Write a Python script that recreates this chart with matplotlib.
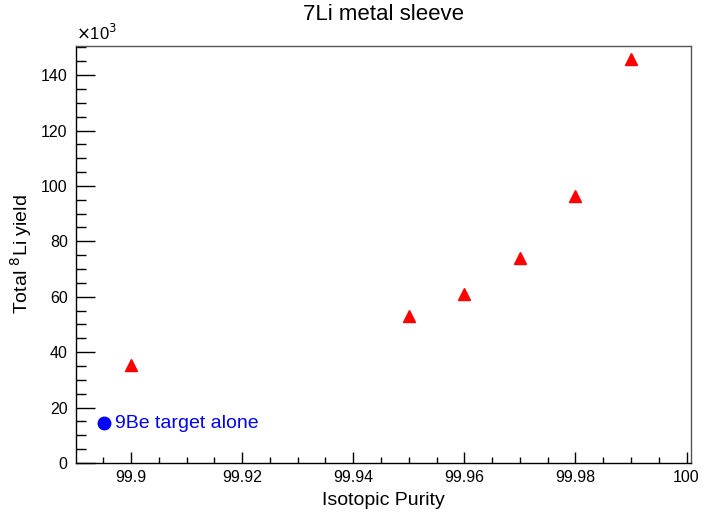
import matplotlib
matplotlib.use("Agg")
import matplotlib.pyplot as plt
from matplotlib.ticker import MultipleLocator, FuncFormatter

plt.rcParams["font.family"] = ["Liberation Sans", "DejaVu Sans"]

# data (yield in units of 10^3)
purity = [99.90, 99.95, 99.96, 99.97, 99.98, 99.99]
yield_k = [35.2, 53.0, 61.0, 74.0, 96.5, 145.8]
be_x = [99.8952]
be_y = [14.4]
be_label = "9Be target alone"

fig = plt.figure(figsize=(7.04, 5.12), dpi=100)
ax = fig.add_axes([76 / 704, 1 - 463 / 512, 615 / 704, 417 / 512])

ax.plot(purity, yield_k, linestyle="none", marker="^", color="red", markersize=9)
ax.plot(be_x, be_y, linestyle="none", marker="o", color="blue", markersize=9)
ax.text(be_x[0] + 0.0020, be_y[0], be_label, color="blue", fontsize=14,
        va="center", ha="left")

ax.set_xlim(99.8901, 100.0008)
ax.set_ylim(0, 150.5)

ax.xaxis.set_major_locator(MultipleLocator(0.02))
ax.xaxis.set_minor_locator(MultipleLocator(0.005))
ax.yaxis.set_major_locator(MultipleLocator(20))
ax.yaxis.set_minor_locator(MultipleLocator(5))
ax.xaxis.set_major_formatter(FuncFormatter(lambda v, p: ("%.2f" % v).rstrip("0").rstrip(".")))
ax.yaxis.set_major_formatter(FuncFormatter(lambda v, p: "%d" % round(v)))

ax.tick_params(axis="x", which="major", direction="in", length=8, width=1, labelsize=11.5, pad=5)
ax.tick_params(axis="x", which="minor", direction="in", length=4, width=1)
ax.tick_params(axis="y", which="major", direction="in", length=13.5, width=1, labelsize=11.5, pad=6)
ax.tick_params(axis="y", which="minor", direction="in", length=7, width=1)

for s in ["top", "right"]:
    ax.spines[s].set_color("#555555")
for s in ax.spines.values():
    s.set_linewidth(1)

ax.set_title("7Li metal sleeve", fontsize=16, pad=18.5)
ax.set_xlabel("Isotopic Purity", fontsize=14, labelpad=5)
ax.set_ylabel("Total $^{8}$Li yield", fontsize=14, labelpad=5)
ax.text(0, 1.008, r"$\times$10$^{3}$", transform=ax.transAxes, fontsize=12,
        ha="left", va="bottom")

fig.savefig("out.png", dpi=100)
